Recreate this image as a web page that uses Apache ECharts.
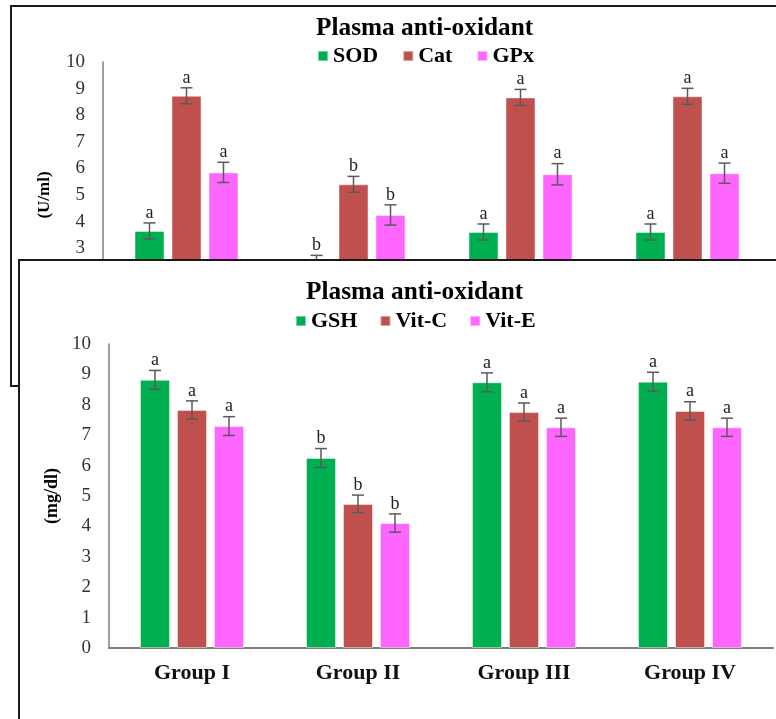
<!DOCTYPE html>
<html>
<head>
<meta charset="utf-8">
<script src="https://cdn.jsdelivr.net/npm/echarts@6/dist/echarts.min.js"></script>
<style>
  html, body { margin: 0; padding: 0; background: #fff; overflow: hidden; width: 776px; height: 719px; }
  #topPanel { position: absolute; left: 10px; top: 5px; width: 790px; height: 378px; border: 2px solid #1a1a1a; background: #fff; }
  #bottomPanel { position: absolute; left: 18px; top: 259px; width: 790px; height: 500px; border: 2px solid #1a1a1a; background: #fff; }
  #topChart, #bottomChart { width: 100%; height: 100%; }
</style>
</head>
<body>
<div id="topPanel"><div id="topChart"></div></div>
<div id="bottomPanel"><div id="bottomChart"></div></div>
<script>
// ---------- data ----------
const groups = ['Group I', 'Group II', 'Group III', 'Group IV'];
const yTicks = [0, 10, 1]; // min, max, interval

// top panel (U/ml)
const topTitle = 'Plasma anti-oxidant';
const topYName = '(U/ml)';
const topNames = ['SOD', 'Cat', 'GPx'];
const sod    = [3.65, 2.43, 3.61, 3.61];
const sodErr = [0.30, 0.30, 0.30, 0.30];
const sodSig = ['a', 'b', 'a', 'a'];
const cat    = [8.73, 5.40, 8.67, 8.71];
const catErr = [0.30, 0.30, 0.30, 0.30];
const catSig = ['a', 'b', 'a', 'a'];
const gpx    = [5.85, 4.25, 5.78, 5.82];
const gpxErr = [0.38, 0.38, 0.40, 0.38];
const gpxSig = ['a', 'b', 'a', 'a'];

// bottom panel (mg/dl)
const botTitle = 'Plasma anti-oxidant';
const botYName = '(mg/dl)';
const botNames = ['GSH', 'Vit-C', 'Vit-E'];
const gsh     = [8.82, 6.25, 8.74, 8.76];
const gshErr  = [0.31, 0.31, 0.31, 0.31];
const gshSig  = ['a', 'b', 'a', 'a'];
const vitC    = [7.83, 4.74, 7.76, 7.80];
const vitCErr = [0.30, 0.29, 0.30, 0.30];
const vitCSig = ['a', 'b', 'a', 'a'];
const vitE    = [7.30, 4.11, 7.26, 7.26];
const vitEErr = [0.31, 0.30, 0.30, 0.30];
const vitESig = ['a', 'b', 'a', 'a'];

const colors = ['#00B050', '#C0504D', '#FF66FF'];
const SERIF = '"Liberation Serif", "Times New Roman", serif';

function errSeries(vals, errs, sigs, offset) {
  return {
    type: 'custom',
    z: 5,
    silent: true,
    data: vals.map((v, i) => [i, v, errs[i]]),
    renderItem: function (params, api) {
      const idx = api.value(0), v = api.value(1), e = api.value(2);
      const sig = sigs[idx];
      const c = api.coord([idx, v]);
      const x = c[0] + offset;
      const hi = api.coord([idx, v + e])[1];
      const lo = api.coord([idx, v - e])[1];
      const st = { stroke: '#5a5a5a', lineWidth: 1.5 };
      return {
        type: 'group',
        children: [
          { type: 'line', shape: { x1: x, y1: hi, x2: x, y2: lo }, style: st },
          { type: 'line', shape: { x1: x - 6, y1: hi, x2: x + 6, y2: hi }, style: st },
          { type: 'line', shape: { x1: x - 6, y1: lo, x2: x + 6, y2: lo }, style: st },
          { type: 'text', style: { text: sig, x: x, y: hi - 1, align: 'center', verticalAlign: 'bottom',
              font: '18px ' + SERIF, fill: '#222' } }
        ]
      };
    }
  };
}

function buildOption(cfg) {
  const barBase = (name, data, color) => ({
    name: name, type: 'bar', data: data, barWidth: 30, barGap: '23.3%',
    itemStyle: { color: color, borderColor: 'rgba(255,255,255,0.45)', borderWidth: 1 }
  });
  return {
    animation: false,
    title: {
      text: cfg.title, left: cfg.titleLeft, top: cfg.titleTop, padding: 0,
      textStyle: { fontFamily: SERIF, fontWeight: 'bold', fontSize: cfg.titleSize, color: '#000' }
    },
    legend: {
      data: cfg.names, left: cfg.legendLeft, top: cfg.legendTop, padding: 0,
      icon: 'rect', itemWidth: 10, itemHeight: 10, itemGap: cfg.legendGap,
      textStyle: { fontFamily: SERIF, fontWeight: 'bold', fontSize: 22, color: '#000', padding: [0, 0, 0, 0] }
    },
    grid: { left: cfg.gridLeft, top: cfg.gridTop, width: cfg.gridWidth, height: cfg.gridHeight },
    xAxis: {
      type: 'category', data: groups,
      axisLine: { show: true, lineStyle: { color: '#7f7f7f', width: 2 } },
      axisTick: { show: false },
      axisLabel: { fontFamily: SERIF, fontWeight: 'bold', fontSize: 22, color: '#111', margin: 14 }
    },
    yAxis: {
      type: 'value', min: yTicks[0], max: yTicks[1], interval: yTicks[2],
      name: cfg.yName, nameLocation: 'middle', nameGap: cfg.nameGap, nameRotate: 90,
      nameTextStyle: { fontFamily: SERIF, fontWeight: 'bold', fontSize: cfg.nameSize, color: '#000' },
      axisLine: { show: true, lineStyle: { color: '#7f7f7f', width: 1.5 } },
      axisTick: { show: false },
      splitLine: { show: false },
      axisLabel: { fontFamily: SERIF, fontSize: 19, color: '#333', margin: 18 }
    },
    series: [
      barBase(cfg.names[0], cfg.s[0], colors[0]),
      barBase(cfg.names[1], cfg.s[1], colors[1]),
      barBase(cfg.names[2], cfg.s[2], colors[2]),
      errSeries(cfg.s[0], cfg.e[0], cfg.g[0], -37),
      errSeries(cfg.s[1], cfg.e[1], cfg.g[1], 0),
      errSeries(cfg.s[2], cfg.e[2], cfg.g[2], 37)
    ]
  };
}

const topChart = echarts.init(document.getElementById('topChart'));
topChart.setOption(buildOption({
  title: topTitle, titleLeft: 304, titleTop: 9, titleSize: 25.3,
  names: topNames, legendLeft: 305, legendTop: 38, legendGap: 24,
  gridLeft: 91, gridTop: 55, gridWidth: 668, gridHeight: 266,
  yName: topYName, nameGap: 50, nameSize: 17,
  s: [sod, cat, gpx], e: [sodErr, catErr, gpxErr], g: [sodSig, catSig, gpxSig]
}));

const bottomChart = echarts.init(document.getElementById('bottomChart'));
bottomChart.setOption(buildOption({
  title: botTitle, titleLeft: 286, titleTop: 19, titleSize: 25.3,
  names: botNames, legendLeft: 275, legendTop: 49, legendGap: 22,
  gridLeft: 89, gridTop: 83, gridWidth: 664, gridHeight: 304,
  yName: botYName, nameGap: 47, nameSize: 18,
  s: [gsh, vitC, vitE], e: [gshErr, vitCErr, vitEErr], g: [gshSig, vitCSig, vitESig]
}));
</script>
</body>
</html>
